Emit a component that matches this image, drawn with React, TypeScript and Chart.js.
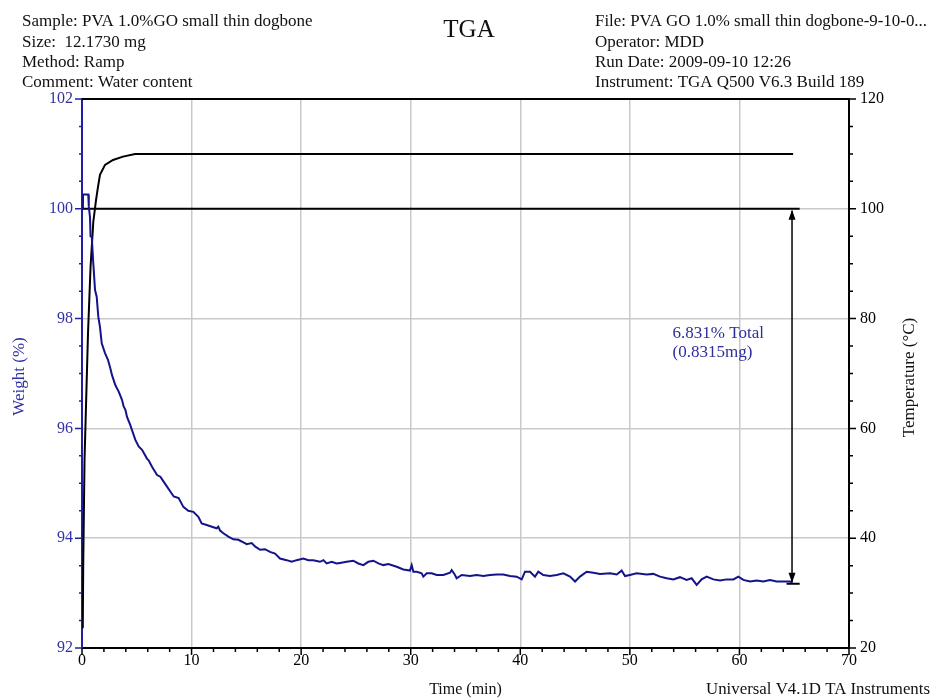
import React, { useEffect, useRef } from 'react';
import { Chart, registerables } from 'chart.js';

Chart.register(...registerables);

const SERIF = '"Liberation Serif", "Times New Roman", Times, serif';

// Weight (%) against time (min)
const weightTime = [
  0, 0.09, 0.57, 0.62, 0.73, 0.78, 0.89, 1.03, 1.19, 1.34, 1.49, 1.64, 1.8, 2.1, 2.37, 2.59, 2.74,
  3.04, 3.19, 3.35, 3.65, 3.8, 3.96, 4.11, 4.41, 4.56, 4.87, 5.17, 5.48, 5.93, 6.08, 6.39, 6.85,
  7.15, 7.45, 7.76, 8.06, 8.37, 8.82, 9.25, 9.7, 10.16, 10.62, 10.92, 11.38, 11.99, 12.29, 12.44,
  12.6, 12.9, 13.36, 13.81, 14.27, 14.57, 15.03, 15.49, 15.79, 16.25, 16.7, 17.16, 17.62, 18.07,
  18.68, 19.14, 19.59, 20.2, 20.66, 21.11, 21.72, 22.03, 22.33, 22.79, 23.24, 23.55, 24.15, 24.76,
  25.22, 25.68, 26.13, 26.59, 27.05, 27.5, 27.96, 28.72, 29.33, 29.93, 30.09, 30.24, 30.55, 31.0,
  31.15, 31.46, 31.91, 32.37, 32.98, 33.59, 33.74, 34.04, 34.19, 34.65, 35.41, 36.02, 36.63, 37.24,
  37.84, 38.45, 39.06, 39.67, 40.13, 40.43, 40.89, 41.34, 41.65, 42.1, 42.71, 43.32, 43.93, 44.54,
  45.0, 45.45, 46.06, 46.67, 47.28, 48.19, 48.8, 49.25, 49.56, 50.0, 50.62, 51.53, 52.14, 52.75,
  53.36, 53.97, 54.57, 55.18, 55.64, 56.1, 56.55, 57.01, 57.62, 58.23, 58.84, 59.45, 59.9, 60.36,
  60.97, 61.57, 62.18, 62.79, 63.4, 64.01, 64.62, 64.85,
];
const weightPct = [
  100.0, 100.26, 100.26, 100.04, 99.85, 99.5, 99.49, 99.01, 98.52, 98.4, 98.03, 97.85, 97.55, 97.37,
  97.25, 97.09, 96.97, 96.79, 96.73, 96.67, 96.52, 96.4, 96.34, 96.21, 96.06, 95.97, 95.79, 95.67,
  95.61, 95.45, 95.42, 95.3, 95.15, 95.12, 95.03, 94.94, 94.85, 94.76, 94.73, 94.57, 94.5, 94.48,
  94.39, 94.27, 94.24, 94.2, 94.18, 94.21, 94.14, 94.09, 94.03, 93.98, 93.97, 93.94, 93.89, 93.91,
  93.85, 93.79, 93.8, 93.75, 93.72, 93.63, 93.6, 93.57, 93.6, 93.63, 93.6, 93.6, 93.57, 93.6, 93.54,
  93.57, 93.54, 93.55, 93.57, 93.59, 93.54, 93.51, 93.57, 93.59, 93.54, 93.51, 93.53, 93.48, 93.43,
  93.41, 93.51, 93.39, 93.39, 93.36, 93.3, 93.36, 93.36, 93.33, 93.33, 93.37, 93.42, 93.33, 93.27,
  93.33, 93.31, 93.33, 93.31, 93.33, 93.34, 93.34, 93.31, 93.3, 93.25, 93.39, 93.39, 93.3, 93.39,
  93.33, 93.31, 93.33, 93.36, 93.3, 93.21, 93.3, 93.39, 93.37, 93.35, 93.36, 93.34, 93.41, 93.31,
  93.33, 93.36, 93.34, 93.35, 93.3, 93.27, 93.25, 93.29, 93.24, 93.27, 93.15, 93.25, 93.3, 93.25,
  93.23, 93.25, 93.25, 93.3, 93.24, 93.21, 93.23, 93.21, 93.24, 93.21, 93.21, 93.21, 93.19,
];

// Temperature (°C) against time (min)
const tempTime = [0.07, 0.11, 0.23, 0.43, 0.55, 0.78, 1.03, 1.28, 1.46, 1.64, 2.1, 2.83, 3.74, 4.84, 64.9];
const tempC = [23.6, 34.8, 54.2, 68.8, 77.4, 89.4, 97.6, 101.6, 104.0, 106.2, 108.0, 108.9, 109.5, 110.0, 110.0];

// Step-change analysis
const stepStartPct = 100;
const stepLossPct = 6.831;
const stepLossMg = 0.8315;
const stepTime = 64.8;
const stepLineEnd = 65.5;
const stepBarStart = 64.3;
const stepLabelTime = 53.9;
const stepLabelPct = 97.72;

const chartTitle = 'TGA';
const headerLeft = [
  'Sample: PVA 1.0%GO small thin dogbone',
  'Size:  12.1730 mg',
  'Method: Ramp',
  'Comment: Water content',
];
const headerRight = [
  'File: PVA GO 1.0% small thin dogbone-9-10-0...',
  'Operator: MDD',
  'Run Date: 2009-09-10 12:26',
  'Instrument: TGA Q500 V6.3 Build 189',
];
const xTitle = 'Time (min)';
const yTitle = 'Weight (%)';
const y1Title = 'Temperature (°C)';
const footer = 'Universal V4.1D TA Instruments';

const BLUE_LINE = '#14148a';
const BLUE_AXIS = '#2020a0';
const BLUE_TEXT = '#3232a6';
const GRID = '#c9c9c9';
const CLEAR = 'rgba(0,0,0,0)';

const decor = {
  id: 'tgaDecor',
  beforeDatasetsDraw(chart: any) {
    const { ctx, chartArea: a, scales } = chart;
    const x = scales.x;
    const y = scales.y;
    ctx.save();
    ctx.strokeStyle = '#000';
    ctx.lineWidth = 2;
    ctx.beginPath();
    ctx.moveTo(a.left, a.top);
    ctx.lineTo(a.right, a.top);
    // reference line at the starting weight and the end bar of the step
    const yTop = y.getPixelForValue(stepStartPct);
    const yBot = y.getPixelForValue(stepStartPct - stepLossPct);
    ctx.moveTo(a.left, yTop);
    ctx.lineTo(x.getPixelForValue(stepLineEnd), yTop);
    ctx.moveTo(x.getPixelForValue(stepBarStart), yBot);
    ctx.lineTo(x.getPixelForValue(stepLineEnd), yBot);
    ctx.stroke();
    ctx.restore();
  },
  afterDatasetsDraw(chart: any) {
    const { ctx, scales } = chart;
    const x = scales.x;
    const y = scales.y;
    const xa = x.getPixelForValue(stepTime);
    const yTop = y.getPixelForValue(stepStartPct);
    const yBot = y.getPixelForValue(stepStartPct - stepLossPct);
    ctx.save();
    ctx.strokeStyle = '#000';
    ctx.fillStyle = '#000';
    ctx.lineWidth = 1.5;
    ctx.beginPath();
    ctx.moveTo(xa, yTop + 2);
    ctx.lineTo(xa, yBot - 2);
    ctx.stroke();
    const head = (tipY: number, dir: number) => {
      ctx.beginPath();
      ctx.moveTo(xa, tipY);
      ctx.lineTo(xa - 3.5, tipY + dir * 10);
      ctx.lineTo(xa + 3.5, tipY + dir * 10);
      ctx.closePath();
      ctx.fill();
    };
    head(yTop + 1, 1);
    head(yBot - 1, -1);

    ctx.fillStyle = '#2e2e9c';
    ctx.font = `17px ${SERIF}`;
    ctx.textAlign = 'left';
    ctx.textBaseline = 'middle';
    const lx = x.getPixelForValue(stepLabelTime);
    const ly = y.getPixelForValue(stepLabelPct);
    ctx.fillText(`${stepLossPct.toFixed(3)}% Total`, lx, ly);
    ctx.fillText(`(${stepLossMg.toFixed(4)}mg)`, lx, ly + 19);
    ctx.restore();
  },
  afterDraw(chart: any) {
    const { ctx, chartArea: a, scales } = chart;
    const x = scales.x;
    const y = scales.y;
    const y1 = scales.y1;
    ctx.save();
    ctx.lineWidth = 1.5;

    // axis tick marks, major and minor
    ctx.strokeStyle = '#000';
    ctx.beginPath();
    for (let v = 0; v <= 70; v += 2) {
      const px = x.getPixelForValue(v);
      const len = v % 10 === 0 ? 7 : 4;
      ctx.moveTo(px, a.bottom);
      ctx.lineTo(px, a.bottom + len);
    }
    for (let v = 20; v <= 120; v += 5) {
      const py = y1.getPixelForValue(v);
      const len = v % 20 === 0 ? 7 : 4;
      ctx.moveTo(a.right, py);
      ctx.lineTo(a.right + len, py);
    }
    ctx.stroke();
    ctx.strokeStyle = BLUE_AXIS;
    ctx.beginPath();
    for (let v = 92; v <= 102; v += 0.5) {
      const py = y.getPixelForValue(v);
      const len = v % 2 === 0 ? 7 : 3;
      ctx.moveTo(a.left - len, py);
      ctx.lineTo(a.left, py);
    }
    ctx.stroke();

    // header block
    ctx.fillStyle = '#111';
    ctx.textBaseline = 'alphabetic';
    ctx.font = `17px ${SERIF}`;
    ctx.textAlign = 'left';
    const base = [26, 46.5, 67, 87];
    headerLeft.forEach((t, i) => ctx.fillText(t, 22, base[i]));
    headerRight.forEach((t, i) => ctx.fillText(t, 595, base[i], 332));
    ctx.font = `25px ${SERIF}`;
    ctx.textAlign = 'center';
    ctx.fillText(chartTitle, 469, 37);

    // axis titles
    ctx.font = `16px ${SERIF}`;
    ctx.textBaseline = 'middle';
    ctx.textAlign = 'center';
    ctx.fillText(xTitle, (a.left + a.right) / 2, 690);
    ctx.font = `17px ${SERIF}`;
    ctx.textAlign = 'right';
    ctx.fillText(footer, 930, 690, 224);

    ctx.textAlign = 'center';
    ctx.save();
    ctx.translate(20, (a.top + a.bottom) / 2 + 3);
    ctx.rotate(-Math.PI / 2);
    ctx.fillStyle = BLUE_TEXT;
    ctx.fillText(yTitle, 0, 0);
    ctx.restore();
    ctx.save();
    ctx.translate(910, (a.top + a.bottom) / 2 + 4);
    ctx.rotate(-Math.PI / 2);
    ctx.fillText(y1Title, 0, 0);
    ctx.restore();

    ctx.restore();
  },
};

export default function App() {
  const ref = useRef<HTMLCanvasElement | null>(null);

  useEffect(() => {
    if (!ref.current) return;
    const weightPoints = weightTime.map((t, i) => ({ x: t, y: weightPct[i] }));
    const tempPoints = tempTime.map((t, i) => ({ x: t, y: tempC[i] }));
    const tickFont = { family: SERIF, size: 16 };

    const chart = new Chart(ref.current, {
      type: 'line',
      data: {
        datasets: [
          {
            label: 'Weight (%)',
            data: weightPoints,
            yAxisID: 'y',
            borderColor: BLUE_LINE,
            borderWidth: 2,
            pointRadius: 0,
            tension: 0,
            fill: false,
          },
          {
            label: 'Temperature (°C)',
            data: tempPoints,
            yAxisID: 'y1',
            borderColor: '#000',
            borderWidth: 2,
            pointRadius: 0,
            tension: 0,
            fill: false,
          },
        ],
      },
      options: {
        responsive: false,
        devicePixelRatio: 1,
        animation: false,
        events: [],
        layout: { padding: { top: 99, left: 0, right: 0, bottom: 0 } },
        plugins: {
          legend: { display: false },
          tooltip: { enabled: false },
          title: { display: false },
        },
        scales: {
          x: {
            type: 'linear',
            min: 0,
            max: 70,
            ticks: { stepSize: 10, color: '#000', font: tickFont, padding: 3, maxRotation: 0, autoSkip: false },
            grid: {
              drawTicks: false,
              lineWidth: 1.5,
              color: (c: any) => (c.tick && (c.tick.value === 0 || c.tick.value === 70) ? CLEAR : GRID),
            },
            border: { color: '#000', width: 2 },
            afterFit: (s: any) => {
              s.height = 52;
            },
          },
          y: {
            type: 'linear',
            position: 'left',
            min: 92,
            max: 102,
            ticks: { stepSize: 2, color: BLUE_TEXT, font: tickFont, padding: 9 },
            grid: {
              drawTicks: false,
              lineWidth: 1.5,
              color: (c: any) => (c.tick && (c.tick.value === 92 || c.tick.value === 102) ? CLEAR : GRID),
            },
            border: { color: BLUE_AXIS, width: 2 },
            afterFit: (s: any) => {
              s.width = 82;
            },
          },
          y1: {
            type: 'linear',
            position: 'right',
            min: 20,
            max: 120,
            ticks: { stepSize: 20, color: '#000', font: tickFont, padding: 11 },
            grid: { drawOnChartArea: false, drawTicks: false },
            border: { color: '#000', width: 2 },
            afterFit: (s: any) => {
              s.width = 87;
            },
          },
        },
      },
      plugins: [decor],
    } as any);

    return () => chart.destroy();
  }, []);

  return (
    <div style={{ position: 'absolute', left: 0, top: 0, width: 936, height: 700, background: '#fff' }}>
      <canvas ref={ref} width={936} height={700} style={{ display: 'block' }} />
    </div>
  );
}
